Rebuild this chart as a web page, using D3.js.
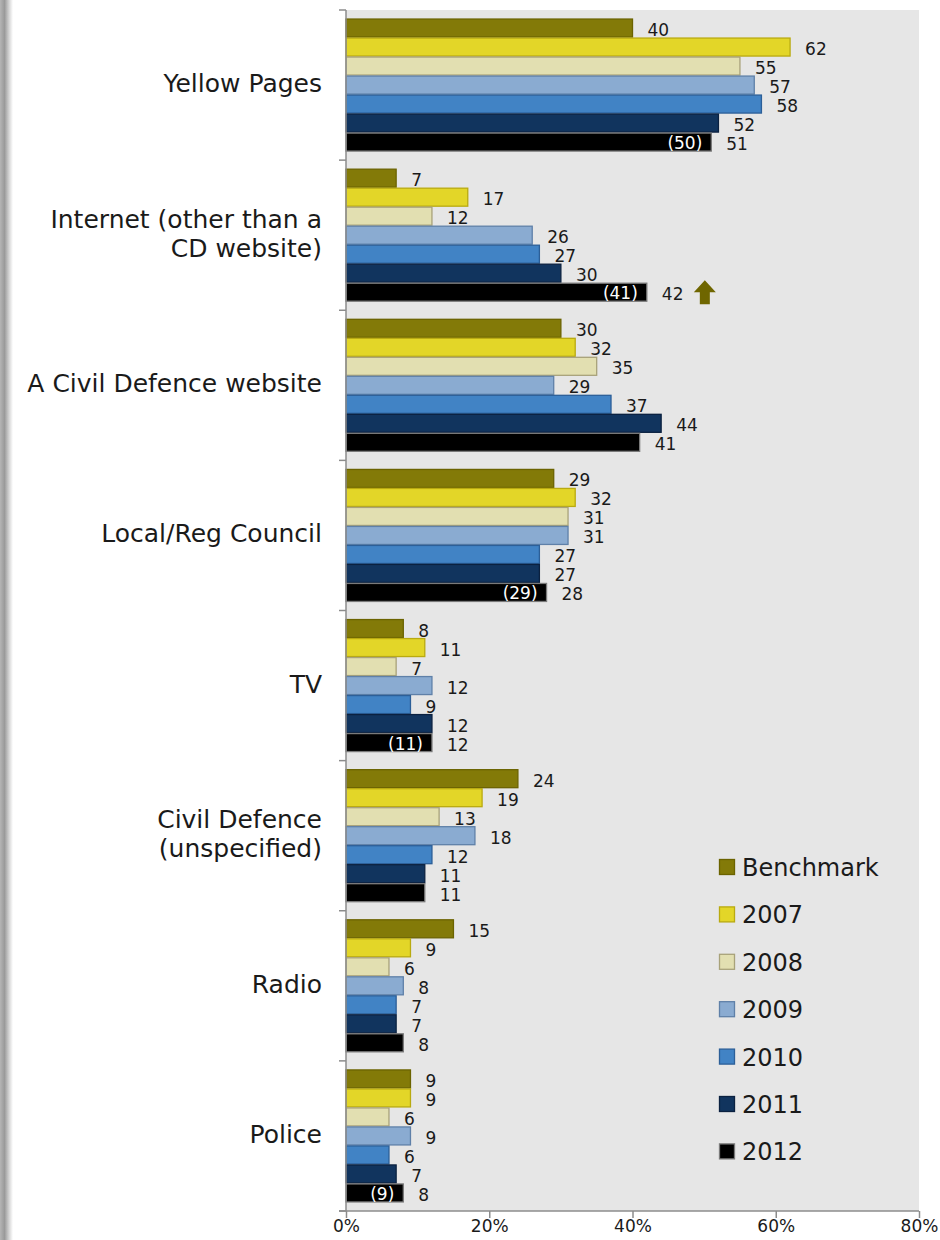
<!DOCTYPE html>
<html><head><meta charset="utf-8">
<script src="https://cdn.jsdelivr.net/npm/d3@7"></script>
<style>
body{margin:0;background:#fff;}
svg{display:block;font-family:"DejaVu Sans",sans-serif;}
</style></head>
<body><svg id="chart" width="940" height="1240"></svg>
<script>
const categories = [["Yellow Pages"],["Internet (other than a","CD website)"],["A Civil Defence website"],["Local/Reg Council"],["TV"],["Civil Defence","(unspecified)"],["Radio"],["Police"]];
const series = ["Benchmark","2007","2008","2009","2010","2011","2012"];
const benchmark = [40,7,30,29,8,24,15,9];
const y2007 = [62,17,32,32,11,19,9,9];
const y2008 = [55,12,35,31,7,13,6,6];
const y2009 = [57,26,29,31,12,18,8,9];
const y2010 = [58,27,37,27,9,12,7,6];
const y2011 = [52,30,44,27,12,11,7,7];
const y2012 = [51,42,41,28,12,11,8,8];
const bracket2012 = [50,41,null,29,11,null,null,9];
const upArrow = [null,"2012",null,null,null,null,null,null];
const xTicks = [0,20,40,60,80];
const fills = ["#837a08","#e3d628","#e2dfb1","#8aabd1","#4183c5","#11345e","#000000"];
const strokes = ["#6b6300","#b9aa10","#a8a27a","#5f80a8","#2c5f98","#0b2140","#7a7a7a"];

const values = [benchmark,y2007,y2008,y2009,y2010,y2011,y2012];
const svg = d3.select("#chart");

// left shadow strip
const defs = svg.append("defs");
const g0 = defs.append("linearGradient").attr("id","shadow").attr("x1","0").attr("x2","1");
g0.append("stop").attr("offset","0").attr("stop-color","#b5b5b5");
g0.append("stop").attr("offset","0.35").attr("stop-color","#9a9a9a");
g0.append("stop").attr("offset","0.7").attr("stop-color","#d5d5d5");
g0.append("stop").attr("offset","1").attr("stop-color","#ffffff");
svg.append("rect").attr("x",0).attr("y",0).attr("width",13).attr("height",1240).attr("fill","url(#shadow)");

const x = d3.scaleLinear().domain([0,80]).range([346,919]);
const catIdx = categories.map((d,i)=>i);
const y = d3.scaleBand().domain(catIdx).range([10,1211]).padding(0);
const yi = d3.scaleBand().domain(series).range([0,y.bandwidth()]).paddingInner(0).paddingOuter(0.45);

// plot background
svg.append("rect").attr("x",x(0)).attr("y",10).attr("width",x(80)-x(0)).attr("height",1211-10).attr("fill","#e6e6e6");

// bars
series.forEach((s,si)=>{
  const g = svg.append("g");
  g.selectAll("rect").data(catIdx).join("rect")
    .attr("x",x(0))
    .attr("y",c=>y(c)+yi(s)+0.5)
    .attr("width",c=>x(values[si][c])-x(0))
    .attr("height",yi.bandwidth()-1)
    .attr("fill",fills[si]).attr("stroke",strokes[si]).attr("stroke-width",1.3);
  g.selectAll("text").data(catIdx).join("text")
    .attr("x",c=>x(values[si][c])+15)
    .attr("y",c=>y(c)+yi(s)+yi.bandwidth()/2+2)
    .attr("dominant-baseline","central")
    .attr("font-size",17).attr("fill","#1a1a1a")
    .text(c=>values[si][c]);
});

// bracket labels inside 2012 bars
svg.append("g").selectAll("text").data(catIdx.filter(c=>bracket2012[c]!=null)).join("text")
  .attr("x",c=>x(y2012[c])-9)
  .attr("y",c=>y(c)+yi("2012")+yi.bandwidth()/2+1)
  .attr("dominant-baseline","central").attr("text-anchor","end")
  .attr("font-size",17).attr("fill","#ffffff")
  .text(c=>"("+bracket2012[c]+")");

// arrows
catIdx.filter(c=>upArrow[c]).forEach(c=>{
  const s = upArrow[c], si = series.indexOf(s);
  const ax = x(values[si][c])+15+ 22 + 10;
  const cy = y(c)+yi(s)+yi.bandwidth()/2+1;
  const top = cy-13, mid = cy-1, bot = cy+11;
  svg.append("path")
    .attr("d",`M${ax+11},${top} L${ax+22},${mid} L${ax+16},${mid} L${ax+16},${bot} L${ax+6},${bot} L${ax+6},${mid} L${ax},${mid} Z`)
    .attr("fill","#6f6600");
});

// axes
const axisColor = "#8c8c8c";
svg.append("line").attr("x1",x(0)).attr("x2",x(0)).attr("y1",10).attr("y2",1211).attr("stroke",axisColor).attr("stroke-width",1.5);
svg.append("g").selectAll("line").data(d3.range(categories.length+1)).join("line")
  .attr("x1",x(0)-7).attr("x2",x(0)).attr("y1",i=>10+i*y.bandwidth()).attr("y2",i=>10+i*y.bandwidth())
  .attr("stroke",axisColor).attr("stroke-width",1.5);
const xa = svg.append("g").attr("transform","translate(0,1211)")
  .call(d3.axisBottom(x).tickValues(xTicks).tickFormat(d=>d+"%").tickSize(7).tickSizeOuter(0));
xa.select(".domain").attr("stroke",axisColor).attr("stroke-width",1.5).attr("d",`M${x(0)-7},0H${x(80)}`);
xa.selectAll(".tick line").attr("stroke",axisColor).attr("stroke-width",1.5);
xa.selectAll(".tick text").attr("font-size",17).attr("font-family","DejaVu Sans").attr("fill","#1a1a1a")
  .attr("y",9).attr("dy","0.71em");

// category labels
const cl = svg.append("g").selectAll("text").data(catIdx).join("text")
  .attr("x",322).attr("text-anchor","end").attr("font-size",25).attr("fill","#1a1a1a")
  .attr("y",c=>y(c)+y.bandwidth()/2-2 - (categories[c].length-1)*14.5)
  .attr("dominant-baseline","central");
cl.selectAll("tspan").data(c=>categories[c]).join("tspan")
  .attr("x",322).attr("dy",(d,i)=>i===0?0:29).text(d=>d);

// legend
const lg = svg.append("g").selectAll("g").data(series).join("g")
  .attr("transform",(d,i)=>`translate(719,${867+i*47.4})`);
lg.append("rect").attr("x",0.5).attr("y",-7.5).attr("width",15).attr("height",15)
  .attr("fill",(d,i)=>fills[i]).attr("stroke",(d,i)=>strokes[i]).attr("stroke-width",1.3);
lg.append("text").attr("x",23).attr("y",1).attr("dominant-baseline","central")
  .attr("font-size",24).attr("fill","#1a1a1a").text(d=>d);
</script></body></html>
